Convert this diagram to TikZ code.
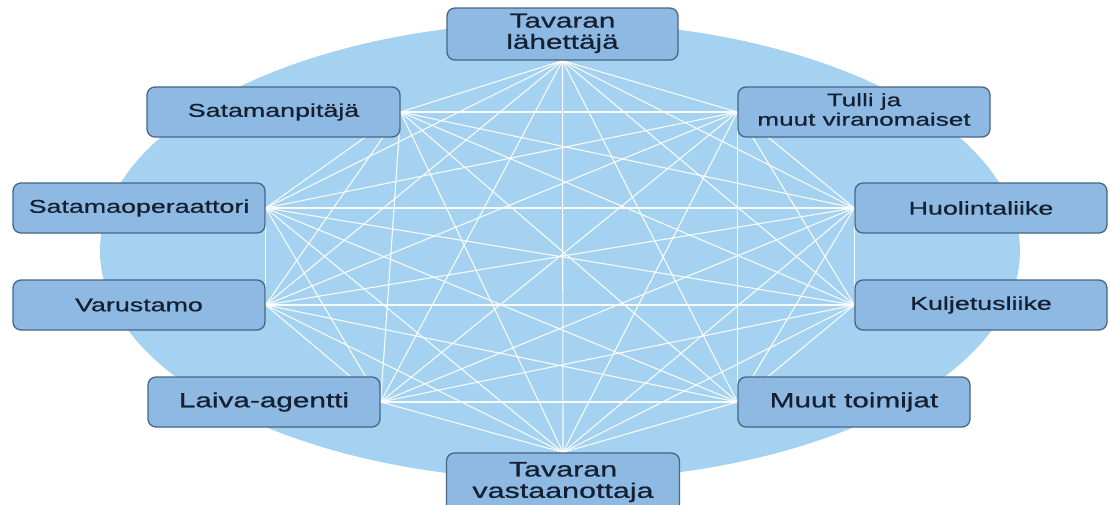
\documentclass[tikz,border=0pt]{standalone}
\usepackage{fontspec}
\setmainfont{Liberation Sans}[FakeBold=0.6]
\definecolor{ellcol}{RGB}{164,210,240}
\definecolor{boxfill}{RGB}{141,185,227}
\definecolor{boxdraw}{RGB}{72,102,132}
\definecolor{txtcol}{RGB}{20,32,50}
\pgfdeclarelayer{bg}
\pgfdeclarelayer{lines}
\pgfsetlayers{bg,lines,main}
\newcommand{\sx}[1]{\scalebox{1.45}[1]{#1}}
\newcommand{\twoline}[2]{\scalebox{1.45}[1]{\begin{tabular}{@{}c@{}}#1\\#2\end{tabular}}}
\tikzset{
  actor/.style={draw=boxdraw, line width=1.3pt, fill=boxfill, rounded corners=8pt,
    text=txtcol, inner sep=0pt, minimum height=50pt, align=center},
  fsmall/.style={font=\fontsize{18.5}{19.5}\selectfont},
  fbig/.style={font=\fontsize{20.5}{21}\selectfont},
  link/.style={draw=white, line width=1.1pt, opacity=0.92}
}
\begin{document}
\begin{tikzpicture}[x=1pt,y=-1pt]
\useasboundingbox (0,0) rectangle (1112,504);
\clip (0,0) rectangle (1112,504);
\begin{pgfonlayer}{bg}
  \fill[ellcol] (560,251) ellipse [x radius=460, y radius=229];
\end{pgfonlayer}
\node[actor, fbig, minimum width=231pt, minimum height=52pt] (n1) at (562.5,34) {\twoline{Tavaran}{lähettäjä}};
\node[actor, fsmall, minimum width=253pt] (n2) at (273.5,112) {\sx{Satamanpitäjä}};
\node[actor, font=\fontsize{18}{19.5}\selectfont, minimum width=252pt] (n3) at (864,112) {\twoline{Tulli ja}{muut viranomaiset}};
\node[actor, fsmall, minimum width=252pt] (n4) at (139,208) {\sx{Satamaoperaattori}};
\node[actor, fsmall, minimum width=252pt] (n5) at (139,305) {\sx{Varustamo}};
\node[actor, fsmall, minimum width=252pt] (n6) at (981,208) {\sx{Huolintaliike}};
\node[actor, fsmall, minimum width=252pt] (n7) at (981,305) {\sx{Kuljetusliike}};
\node[actor, fbig, minimum width=232pt] (n8) at (264,402) {\sx{Laiva-agentti}};
\node[actor, fbig, minimum width=232pt] (n9) at (854,402) {\sx{Muut toimijat}};
\node[actor, font=\fontsize{21}{20.5}\selectfont, minimum width=233pt, minimum height=60pt] (n10) at (563,483) {\twoline{Tavaran}{vastaanottaja}};
\begin{pgfonlayer}{lines}
\foreach \a [count=\i] in {n1.south,n2.east,n4.east,n5.east,n8.east,n10.north,n9.west,n7.west,n6.west,n3.west}{
  \foreach \b [count=\j] in {n1.south,n2.east,n4.east,n5.east,n8.east,n10.north,n9.west,n7.west,n6.west,n3.west}{
    \ifnum\j>\i \draw[link] (\a) -- (\b); \fi
  }
}
\end{pgfonlayer}
\end{tikzpicture}
\end{document}
